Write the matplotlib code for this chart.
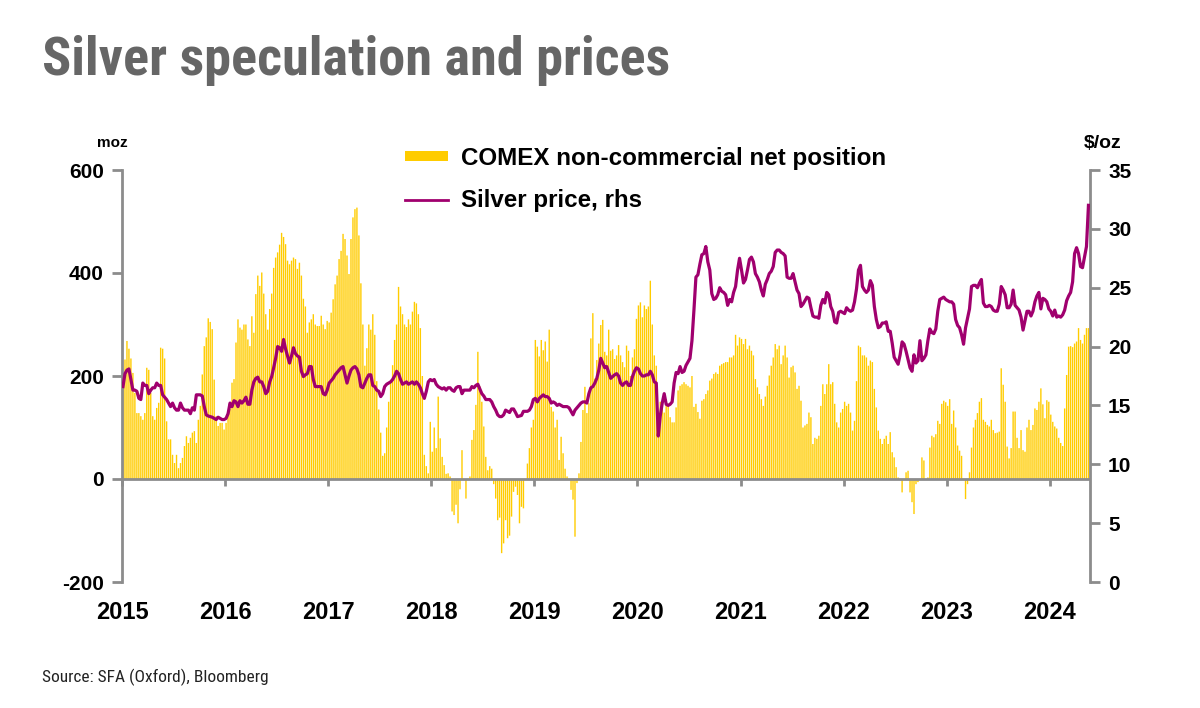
import os
import numpy as np
import matplotlib
matplotlib.use('Agg')
import matplotlib.pyplot as plt
from matplotlib import font_manager as fm
from matplotlib.patches import Patch
from matplotlib.lines import Line2D

plt.rcParams['font.family'] = ['Liberation Sans', 'DejaVu Sans']
plt.rcParams['axes.unicode_minus'] = False

# COMEX non-commercial net position, moz (weekly, one list per year)
net_2015 = [180, 232, 268, 253, 234, 206, 167, 128, 128, 122, 115, 128, 216, 212, 167, 122, 115, 138, 148, 255,
            253, 234, 112, 77, 77, 47, 31, 47, 21, 31, 41, 64, 83, 70, 80, 90, 93, 70, 115, 142,
            203, 258, 275, 312, 305, 291, 193, 122, 103, 109, 109, 96]
net_2016 = [109, 129, 136, 187, 194, 265, 310, 294, 290, 300, 300, 271, 258, 316, 284, 359, 395, 375, 401, 360,
            320, 290, 330, 360, 410, 430, 440, 455, 478, 470, 456, 424, 417, 424, 430, 427, 408, 420, 395, 350,
            335, 284, 304, 310, 320, 300, 297, 297, 317, 300, 291, 307]
net_2017 = [304, 323, 349, 378, 395, 427, 443, 476, 466, 434, 398, 466, 508, 524, 527, 473, 380, 300, 220, 254,
            300, 290, 320, 280, 190, 135, 90, 45, 50, 100, 150, 190, 221, 270, 300, 373, 335, 320, 300, 295,
            310, 300, 325, 344, 341, 320, 293, 200, 47, 25, 11, 111]
net_2018 = [53, 100, 60, 160, 79, 43, 27, 10, 11, 5, -63, -70, -50, -86, -20, 56, 0, -38, 0, 5,
            76, 95, 144, 247, 180, 150, 102, 43, 17, 25, 20, -10, -38, -80, -75, -144, -125, -80, -115, -110,
            -73, -25, -15, -31, -86, -54, -57, -2, 30, 60, 100, 115]
net_2019 = [270, 257, 238, 270, 250, 267, 228, 290, 140, 131, 100, 115, 37, 82, 50, 20, 5, -2, -21, -40,
            -112, -8, 11, 72, 134, 179, 128, 147, 273, 322, 195, 231, 263, 299, 309, 247, 240, 290, 249, 252,
            233, 240, 260, 240, 227, 217, 259, 249, 200, 236, 252, 311]
net_2020 = [337, 343, 314, 337, 330, 335, 385, 300, 240, 220, 126, 150, 136, 129, 155, 146, 120, 110, 110, 139,
            172, 181, 184, 188, 184, 181, 178, 200, 140, 146, 130, 117, 152, 155, 165, 172, 191, 195, 204, 207,
            204, 220, 223, 225, 227, 227, 236, 236, 240, 280, 259, 275]
net_2021 = [272, 262, 272, 252, 259, 249, 240, 194, 178, 165, 155, 142, 160, 181, 201, 220, 236, 262, 252, 259,
            223, 240, 259, 236, 197, 217, 220, 207, 175, 181, 152, 100, 104, 107, 129, 120, 68, 80, 78, 84,
            142, 184, 165, 184, 223, 184, 188, 146, 110, 100, 129, 136]
net_2022 = [150, 142, 146, 129, 94, 113, 190, 259, 256, 240, 240, 236, 220, 230, 227, 175, 139, 94, 78, 68,
            78, 84, 68, 91, 52, 42, 23, 3, 0, -26, 0, 13, 16, -26, -45, -68, -10, -6, 0, 42,
            36, 0, 3, 61, 84, 81, 87, 113, 107, 146, 152, 149]
net_2023 = [142, 155, 107, 133, 100, 65, 55, 45, 0, -39, -10, 13, 61, 100, 115, 128, 150, 157, 115, 111,
            105, 102, 115, 95, 89, 90, 92, 215, 183, 150, 63, 40, 60, 131, 131, 80, 60, 95, 56, 53,
            100, 115, 95, 105, 137, 134, 150, 176, 145, 118, 153, 150]
net_2024 = [125, 111, 102, 98, 80, 70, 64, 137, 202, 257, 258, 256, 263, 267, 293, 270, 263, 280, 293, 293]

# Silver price, $/oz (same weeks)
px_2015 = [16.6, 17.7, 18.0, 18.1, 17.2, 16.3, 16.3, 16.2, 15.6, 15.5, 16.9, 16.7, 16.7, 16.0, 16.3, 16.5, 16.5, 16.9, 16.7, 16.7,
           15.9, 15.7, 15.5, 15.2, 14.9, 15.2, 14.8, 14.6, 14.6, 15.2, 14.8, 14.6, 14.6, 14.6, 14.3, 14.8, 14.6, 15.9, 15.9, 15.9,
           15.8, 14.9, 14.2, 14.1, 14.05, 14.0, 13.9, 13.8, 14.0, 13.9, 13.8, 13.8]
px_2016 = [13.9, 14.3, 15.2, 14.9, 15.4, 15.3, 14.9, 15.4, 15.2, 15.4, 15.7, 15.1, 15.1, 16.3, 17.0, 17.3, 17.4, 17.0, 17.0, 16.6,
           16.0, 16.2, 17.0, 17.45, 18.2, 19.0, 20.0, 19.9, 19.6, 20.6, 19.8, 19.2, 18.6, 19.2, 19.9, 19.4, 19.2, 19.1, 17.9, 17.45,
           17.6, 17.7, 18.3, 18.3, 17.2, 16.6, 16.6, 16.6, 16.6, 16.0, 15.9, 16.3]
px_2017 = [16.9, 17.1, 17.3, 17.6, 17.8, 18.0, 18.2, 18.3, 17.6, 16.9, 17.5, 18.0, 18.2, 18.3, 18.1, 17.6, 16.6, 16.5, 16.9, 17.3,
           17.6, 17.6, 16.7, 16.6, 16.3, 16.2, 15.75, 16.0, 16.6, 16.8, 16.9, 17.0, 17.2, 17.5, 17.9, 17.7, 17.2, 16.8, 16.9, 17.0,
           16.8, 16.9, 17.0, 16.8, 17.0, 16.8, 16.5, 16.0, 15.6, 16.2, 17.0, 17.2]
px_2018 = [17.1, 17.2, 16.8, 16.6, 16.5, 16.4, 16.5, 16.3, 16.5, 16.5, 16.3, 16.2, 16.5, 16.6, 16.6, 16.0, 16.3, 16.3, 16.3, 16.3,
           16.6, 16.5, 16.7, 16.8, 16.4, 16.0, 15.8, 15.5, 15.5, 15.5, 15.3, 14.9, 14.6, 14.2, 14.05, 14.05, 14.2, 14.6, 14.5, 14.4,
           14.7, 14.7, 14.4, 14.05, 14.1, 14.15, 14.5, 14.5, 14.5, 14.6, 14.9, 15.5]
px_2019 = [15.6, 15.3, 15.6, 15.75, 15.9, 15.75, 15.75, 15.6, 15.2, 15.3, 15.2, 15.0, 15.1, 15.0, 14.9, 14.9, 14.9, 14.8, 14.5, 14.2,
           14.6, 14.8, 15.0, 15.2, 15.3, 15.3, 15.2, 16.0, 16.5, 16.6, 16.9, 17.3, 18.0, 19.0, 18.6, 18.2, 18.3, 17.8, 17.3, 17.45,
           17.6, 17.7, 17.5, 16.9, 16.7, 16.9, 17.0, 16.7, 16.7, 17.45, 17.9, 18.2]
px_2020 = [18.1, 17.7, 17.5, 17.5, 17.6, 17.6, 17.9, 17.6, 17.0, 16.9, 12.4, 14.1, 15.2, 16.0, 15.1, 15.0, 15.1, 15.3, 16.9, 17.8,
           17.7, 18.3, 17.8, 17.9, 18.4, 18.7, 19.0, 20.5, 23.1, 25.9, 26.1, 27.0, 27.8, 27.9, 28.5, 27.2, 26.5, 24.5, 24.0, 24.1,
           24.4, 25.0, 24.7, 24.6, 24.4, 23.5, 24.0, 23.8, 24.6, 25.1, 26.5, 27.5]
px_2021 = [26.5, 25.4, 25.7, 26.5, 27.4, 27.6, 27.2, 26.2, 25.9, 25.5, 24.8, 24.3, 25.3, 25.7, 26.2, 26.4, 26.8, 28.0, 28.2, 28.2,
           28.0, 27.9, 27.7, 25.9, 25.8, 25.8, 26.2, 25.5, 24.8, 24.5, 23.4, 23.6, 23.9, 24.2, 24.1, 23.3, 22.6, 22.5, 22.5, 22.4,
           23.5, 24.0, 23.7, 24.6, 24.4, 23.4, 23.0, 22.1, 22.0, 22.9, 23.0, 22.9]
px_2022 = [22.8, 23.3, 23.1, 23.0, 23.1, 23.8, 24.9, 26.5, 26.9, 25.1, 24.8, 24.6, 24.8, 25.6, 25.2, 23.4, 22.3, 21.6, 21.7, 22.0,
           22.0, 22.1, 21.3, 21.3, 20.3, 19.1, 18.8, 18.5, 19.3, 20.4, 20.2, 19.6, 18.9, 18.2, 17.9, 19.3, 18.6, 18.8, 20.5, 18.8,
           19.0, 19.3, 20.5, 21.5, 21.2, 21.1, 21.5, 23.0, 24.0, 24.1, 24.2, 24.0]
px_2023 = [23.9, 23.8, 23.8, 23.6, 22.3, 21.8, 21.6, 21.0, 20.2, 21.6, 22.4, 23.2, 25.1, 25.2, 25.2, 25.0, 25.4, 25.7, 23.7, 23.4,
           23.4, 23.5, 23.4, 23.1, 23.0, 23.0, 23.6, 25.1, 24.8, 24.4, 23.3, 23.3, 23.6, 24.8, 23.5, 23.3, 23.1, 22.5, 21.4, 22.2,
           23.0, 23.0, 22.6, 23.0, 23.8, 24.3, 24.6, 23.2, 24.1, 24.0, 23.8, 23.2]
px_2024 = [23.0, 22.6, 23.1, 22.5, 22.6, 22.5, 22.7, 23.1, 23.9, 24.3, 24.6, 25.5, 27.9, 28.4, 27.9, 26.8, 26.7, 27.6, 28.5, 32.0]

years = list(range(2015, 2025))
net_by_year = [net_2015, net_2016, net_2017, net_2018, net_2019, net_2020, net_2021, net_2022, net_2023, net_2024]
px_by_year = [px_2015, px_2016, px_2017, px_2018, px_2019, px_2020, px_2021, px_2022, px_2023, px_2024]

# weekly positions as fractional years
t = []
net = []
px = []
for yr, n, p in zip(years, net_by_year, px_by_year):
    for i in range(len(n)):
        t.append(yr + (i + 0.5) / 52.0)
    net += n
    px += p
t = np.array(t)


def condensed_font(bold):
    # look for a narrow/condensed face among the installed fonts
    prefs = ['liberationsansnarrow', 'robotocondensed', 'dejavusanscondensed', 'opensans_condensed',
             'opensanscondensed', 'notosanscondensed', 'notosansdisplaycondensed']
    files = [f.fname for f in fm.fontManager.ttflist]
    for p in prefs:
        for fn in files:
            base = os.path.basename(fn).lower().replace('-', '')
            if not base.startswith(p):
                continue
            rest = base[len(p):]
            if 'italic' in rest or 'oblique' in rest:
                continue
            if bold and rest.startswith('bold.'):
                return fm.FontProperties(fname=fn)
            if not bold and (rest.startswith('regular.') or rest.startswith('.')):
                return fm.FontProperties(fname=fn)
    return fm.FontProperties(family=['Liberation Sans', 'DejaVu Sans'], weight='bold' if bold else 'normal')


gold = '#FFCC00'
purple = '#A0006E'
grey = '#8C8C8C'

fig = plt.figure(figsize=(12, 7.08), dpi=100)
ax = fig.add_axes([122/1200, 1-582/708, (1090-122)/1200, (582-170)/708])
ax2 = ax.twinx()

bars = ax.bar(t, net, width=0.7/52, color=gold, linewidth=0, zorder=2)
for b in bars:
    b.set_snap(False)
ax2.plot(t, px, color=purple, lw=2.3, zorder=3)

ax.set_xlim(2015, 2024.39)
ax.set_ylim(-200, 600)
ax2.set_ylim(0, 35)
ax.set_yticks([-200, 0, 200, 400, 600])
ax2.set_yticks(np.arange(0, 36, 5))

for a in (ax, ax2):
    a.spines['top'].set_visible(False)
    a.spines['bottom'].set_visible(False)
ax.spines['right'].set_visible(False)
ax.spines['left'].set_color(grey)
ax.spines['left'].set_linewidth(2)
ax2.spines['left'].set_visible(False)
ax2.spines['right'].set_color(grey)
ax2.spines['right'].set_linewidth(2)

ax.tick_params(axis='y', direction='out', length=7, width=2, color=grey, pad=6)
ax2.tick_params(axis='y', direction='out', length=7, width=2, color=grey, pad=6)
for lab in ax.get_yticklabels() + ax2.get_yticklabels():
    lab.set_fontsize(15)
    lab.set_fontweight('bold')

# zero line with year ticks
ax.axhline(0, color=grey, lw=2, zorder=4)
ax.set_xticks([])
for yr in years:
    ax.plot([yr, yr], [0, -14], color=grey, lw=2, zorder=4, clip_on=False, solid_capstyle='butt')
    ax.text(yr, -0.074, str(yr), transform=ax.get_xaxis_transform(), ha='center', va='center',
            fontsize=17, fontweight='bold')

fig.text(97/1200, 1-143/708, 'moz', ha='left', va='center', fontsize=11, fontweight='bold')
fig.text(1084/1200, 1-143/708, '$/oz', ha='left', va='center', fontsize=14, fontweight='bold')

handles = [Patch(facecolor=gold, edgecolor='none'),
           Line2D([0], [0], color=purple, lw=2)]
leg = fig.legend(handles, ['COMEX non-commercial net position', 'Silver price, rhs'],
                 loc='upper left', bbox_to_anchor=(383/1200, 1-125/708), frameon=False,
                 prop={'size': 17.4, 'weight': 'bold'}, handlelength=1.78, handleheight=0.3,
                 handletextpad=0.55, labelspacing=0.78)

title_fp = condensed_font(True)
src_fp = condensed_font(False)
title = fig.text(42/1200, 1-75/708, 'Silver speculation and prices', ha='left', va='baseline',
                 fontproperties=title_fp, fontsize=40, color='#666666')
src = fig.text(42/1200, 1-677/708, 'Source: SFA (Oxford), Bloomberg', ha='left', va='center',
               fontproperties=src_fp, fontsize=11.5, color='#222222')

# fit title / source widths to the reference layout
fig.canvas.draw()
r = fig.canvas.get_renderer()
w = title.get_window_extent(r).width
title.set_fontsize(min(44, 40 * 628.0 / w))
w = src.get_window_extent(r).width
src.set_fontsize(min(13, 11.5 * 226.0 / w))

fig.savefig('out.png', dpi=100)
